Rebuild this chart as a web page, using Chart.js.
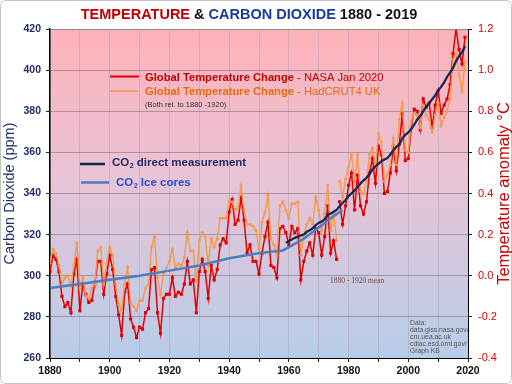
<!DOCTYPE html>
<html>
<head>
<meta charset="utf-8">
<script src="https://cdn.jsdelivr.net/npm/chart.js@4.4.1/dist/chart.umd.min.js"></script>
<style>
  html, body { margin: 0; padding: 0; background: #fff; }
  #wrap { width: 512px; height: 384px; }
  canvas { display: block; }
</style>
</head>
<body>
<div id="wrap"><canvas id="chart" width="512" height="384"></canvas></div>
<script>
'use strict';

// annual temperature anomaly (°C), rel. to 1880-1920, 1880..2019
const firstYear = 1880;
const nasaTemp = [
  0.02, 0.10, 0.08, 0.02, -0.10, -0.15, -0.13, -0.18, 0.01, 0.08,
  -0.17, -0.04, -0.09, -0.13, -0.12, -0.04, 0.07, 0.07, -0.09, 0.01,
  0.10, 0.03, -0.10, -0.19, -0.29, -0.08, -0.04, -0.21, -0.25, -0.30,
  -0.25, -0.26, -0.18, -0.16, 0.03, 0.04, -0.18, -0.28, -0.11, -0.09,
  -0.09, -0.01, -0.10, -0.08, -0.09, -0.04, 0.07, -0.04, -0.02, -0.18,
  0.02, 0.08, 0.02, -0.11, 0.05, -0.02, 0.03, 0.15, 0.18, 0.16,
  0.31, 0.37, 0.25, 0.27, 0.38, 0.27, 0.11, 0.15, 0.07, 0.07,
  0.01, 0.11, 0.19, 0.26, 0.05, 0.04, -0.01, 0.23, 0.24, 0.21,
  0.15, 0.24, 0.21, 0.23, -0.02, 0.07, 0.12, 0.16, 0.10, 0.23,
  0.21, 0.10, 0.19, 0.34, 0.11, 0.17, 0.08, 0.36, 0.25, 0.34,
  0.44, 0.50, 0.32, 0.49, 0.34, 0.30, 0.36, 0.50, 0.57, 0.45,
  0.63, 0.59, 0.40, 0.41, 0.50, 0.63, 0.51, 0.64, 0.79, 0.56,
  0.57, 0.72, 0.81, 0.80, 0.71, 0.86, 0.82, 0.84, 0.72, 0.83,
  0.90, 0.79, 0.83, 0.86, 0.93, 1.08, 1.20, 1.10, 1.03, 1.16
];
const hadcrutTemp = [
  0.06, 0.13, 0.11, 0.05, -0.04, -0.01, 0.00, -0.05, 0.05, 0.16,
  -0.06, -0.01, -0.10, -0.11, -0.06, -0.04, 0.12, 0.14, -0.04, 0.06,
  0.14, 0.10, -0.04, -0.14, -0.17, -0.04, 0.04, -0.13, -0.15, -0.17,
  -0.12, -0.12, -0.06, -0.04, 0.14, 0.19, -0.01, -0.09, 0.01, 0.04,
  0.07, 0.13, 0.04, 0.06, 0.05, 0.09, 0.21, 0.12, 0.12, -0.03,
  0.17, 0.21, 0.19, 0.05, 0.18, 0.14, 0.18, 0.28, 0.28, 0.28,
  0.36, 0.36, 0.32, 0.33, 0.44, 0.32, 0.25, 0.25, 0.24, 0.22,
  0.13, 0.26, 0.31, 0.39, 0.18, 0.15, 0.10, 0.34, 0.36, 0.32,
  0.28, 0.35, 0.35, 0.36, 0.10, 0.20, 0.25, 0.28, 0.25, 0.38,
  0.32, 0.22, 0.30, 0.44, 0.22, 0.30, 0.17, 0.46, 0.38, 0.47,
  0.53, 0.59, 0.46, 0.59, 0.41, 0.40, 0.46, 0.59, 0.62, 0.53,
  0.69, 0.65, 0.46, 0.49, 0.54, 0.67, 0.54, 0.76, 0.84, 0.61,
  0.60, 0.75, 0.79, 0.78, 0.72, 0.83, 0.78, 0.76, 0.70, 0.78,
  0.84, 0.73, 0.77, 0.80, 0.86, 1.05, 1.08, 0.98, 0.90, 1.04
];
const years = nasaTemp.map((_, i) => firstYear + i);
const gapAfterYear = 1976;

// CO2 direct measurement (ppm), 1959..2019
const directStart = 1959;
const co2Direct = [
  315.98, 316.91, 317.64, 318.45, 318.99, 319.62, 320.04, 321.37, 322.18, 323.05,
  324.62, 325.68, 326.32, 327.46, 329.68, 330.19, 331.13, 332.03, 333.84, 335.41,
  336.84, 338.76, 340.12, 341.48, 343.15, 344.85, 346.35, 347.61, 349.31, 351.69,
  353.20, 354.45, 355.70, 356.54, 357.21, 358.96, 360.97, 362.74, 363.88, 366.84,
  368.54, 369.71, 371.32, 373.45, 375.98, 377.70, 379.98, 382.09, 384.02, 385.83,
  387.64, 390.10, 391.85, 394.06, 396.74, 398.81, 401.01, 404.41, 406.76, 408.72,
  411.66
];

// CO2 ice cores (ppm)
const iceYears = [1880, 1890, 1900, 1910, 1920, 1930, 1940, 1950, 1958, 1965, 1970, 1975, 1978];
const iceCO2 = [294, 296, 298, 300, 302.5, 305, 308.5, 311, 312.3, 318, 323.5, 329, 332];

const xTickLabels = [1880, 1900, 1920, 1940, 1960, 1980, 2000, 2020];

const pts = (xs, ys) => xs.map((x, i) => ({ x: x, y: ys[i] }));
const gapSegment = {
  borderColor: c => c.p0.parsed.x === gapAfterYear ? 'rgba(0,0,0,0)' : undefined
};

const overlay = {
  id: 'overlay',
  beforeDraw(chart) {
    const { ctx, chartArea: a } = chart;
    const g = ctx.createLinearGradient(0, a.top, 0, a.bottom);
    g.addColorStop(0, '#ffb1b9');
    g.addColorStop(0.45, '#e9c3d6');
    g.addColorStop(1, '#b7cde9');
    ctx.save();
    ctx.fillStyle = g;
    ctx.fillRect(a.left, a.top, a.right - a.left, a.bottom - a.top);
    ctx.restore();
  },
  afterDraw(chart) {
    const { ctx, chartArea: a } = chart;
    ctx.save();

    // outer frame
    ctx.strokeStyle = '#c4c4c4';
    ctx.lineWidth = 1;
    ctx.beginPath();
    ctx.roundRect(0.5, 0.5, 511, 383, 5);
    ctx.stroke();

    // plot top edge
    ctx.strokeStyle = '#8a8a8a';
    ctx.beginPath();
    ctx.moveTo(a.left, a.top + 0.5);
    ctx.lineTo(a.right, a.top + 0.5);
    ctx.stroke();

    // title in several colours
    const parts = [
      ['TEMPERATURE', '#c00000'],
      [' & ', '#111'],
      ['CARBON DIOXIDE', '#1a3a9a'],
      [' 1880 - 2019', '#111']
    ];
    ctx.font = 'bold 14.5px "Liberation Sans", Arial, sans-serif';
    ctx.textBaseline = 'alphabetic';
    let total = parts.reduce((s, p) => s + ctx.measureText(p[0]).width, 0);
    let tx = 249 - total / 2;
    parts.forEach(p => {
      ctx.fillStyle = p[1];
      ctx.fillText(p[0], tx, 19);
      tx += ctx.measureText(p[0]).width;
    });

    // legend for temperature
    const legendLine = (x1, x2, y, color, w) => {
      ctx.strokeStyle = color;
      ctx.lineWidth = w;
      ctx.beginPath();
      ctx.moveTo(x1, y);
      ctx.lineTo(x2, y);
      ctx.stroke();
    };
    const twoPart = (x, y, bold, normal, color) => {
      ctx.fillStyle = color;
      ctx.font = 'bold 11.2px "Liberation Sans", Arial, sans-serif';
      ctx.fillText(bold, x, y);
      const w = ctx.measureText(bold).width;
      ctx.font = '11.2px "Liberation Sans", Arial, sans-serif';
      ctx.fillText(normal, x + w, y);
    };
    ctx.textBaseline = 'middle';
    legendLine(110, 139, 76.5, '#d90000', 2);
    twoPart(145, 78, 'Global Temperature Change', ' - NASA Jan 2020', '#c00000');
    legendLine(110, 138, 91, '#f79646', 1.5);
    twoPart(145, 92, 'Global Temperature Change', ' - HadCRUT4 UK', '#e46c0a');
    ctx.fillStyle = '#333';
    ctx.font = '7.5px "Liberation Sans", Arial, sans-serif';
    ctx.fillText('(Both rel. to 1880 -1920)', 145, 104.5);

    // legend for CO2
    const co2Label = (x, y, rest, color) => {
      ctx.fillStyle = color;
      ctx.font = 'bold 11.5px "Liberation Sans", Arial, sans-serif';
      ctx.fillText('CO', x, y);
      let w = ctx.measureText('CO').width;
      ctx.font = 'bold 7px "Liberation Sans", Arial, sans-serif';
      ctx.fillText('2', x + w + 0.5, y + 3.5);
      w += ctx.measureText('2').width + 0.5;
      ctx.font = 'bold 11.5px "Liberation Sans", Arial, sans-serif';
      ctx.fillText(rest, x + w, y);
    };
    legendLine(80, 105, 164, '#14285a', 2.5);
    co2Label(112, 163, ' direct measurement', '#1f2d6b');
    legendLine(81, 109, 182.5, '#4a7fbf', 2.5);
    co2Label(116, 183, ' Ice cores', '#1e50dc');

    // baseline note
    ctx.fillStyle = '#6e4a40';
    ctx.font = '7.5px "Liberation Serif", "Times New Roman", serif';
    ctx.fillText('1880 - 1920 mean', 330, 281);

    // data sources
    ctx.fillStyle = '#555';
    ctx.font = '6.8px "Liberation Sans", Arial, sans-serif';
    ['Data:', 'data.giss.nasa.gov/', 'cru.uea.ac.uk', 'cdiac.esd.ornl.gov/', 'Graph KB']
      .forEach((s, i) => ctx.fillText(s, 410, 323 + i * 7.1));

    // right axis title
    ctx.translate(504, (a.top + a.bottom) / 2);
    ctx.rotate(-Math.PI / 2);
    ctx.textAlign = 'center';
    ctx.fillStyle = '#d00000';
    ctx.font = '16.5px "Liberation Sans", Arial, sans-serif';
    ctx.fillText('Temperature anomaly °C', 0, 0);
    ctx.restore();
  }
};

const tickFont = { family: '"Liberation Sans", Arial, sans-serif', size: 10.5, weight: 'bold' };

new Chart(document.getElementById('chart'), {
  type: 'line',
  data: {
    datasets: [
      {
        label: 'CO2 direct measurement',
        data: pts(co2Direct.map((_, i) => directStart + i), co2Direct),
        yAxisID: 'y',
        borderColor: '#14285a',
        borderWidth: 2.3,
        pointRadius: 0
      },
      {
        label: 'CO2 Ice cores',
        data: pts(iceYears, iceCO2),
        yAxisID: 'y',
        borderColor: '#4a7fbf',
        borderWidth: 2.5,
        pointRadius: 0
      },
      {
        label: 'HadCRUT4 UK',
        data: pts(years, hadcrutTemp),
        yAxisID: 'yT',
        borderColor: '#f39a4c',
        backgroundColor: '#f39a4c',
        borderWidth: 1.4,
        pointRadius: 1.5,
        pointBorderWidth: 0,
        segment: gapSegment
      },
      {
        label: 'NASA Jan 2020',
        data: pts(years, nasaTemp),
        yAxisID: 'yT',
        borderColor: '#e00000',
        backgroundColor: '#e00000',
        borderWidth: 1.5,
        pointStyle: 'rect',
        pointRadius: 2.2,
        pointBorderWidth: 0,
        segment: gapSegment
      }
    ]
  },
  options: {
    responsive: false,
    animation: false,
    events: [],
    layout: { padding: { top: 29, left: 0, right: 0, bottom: 0 } },
    plugins: { legend: { display: false }, tooltip: { enabled: false }, title: { display: false } },
    scales: {
      x: {
        type: 'linear',
        min: 1880,
        max: 2020,
        afterFit: s => { s.height = 26; },
        ticks: {
          stepSize: 10,
          autoSkip: false,
          maxRotation: 0,
          padding: 3,
          color: '#111',
          font: tickFont,
          callback: v => xTickLabels.includes(v) ? String(v) : ''
        },
        grid: { color: 'rgba(160,150,165,0.4)', tickColor: '#222', tickLength: 4 },
        border: { color: '#000', width: 1 }
      },
      y: {
        position: 'left',
        min: 260,
        max: 420,
        afterFit: s => { s.width = 50; },
        ticks: { stepSize: 20, color: '#1f2d6b', font: tickFont, padding: 5 },
        grid: { color: 'rgba(120,110,120,0.55)', tickColor: '#222', tickLength: 4 },
        border: { color: '#000', width: 1.5 },
        title: {
          display: true,
          text: 'Carbon Dioxide (ppm)',
          color: '#1f2d6b',
          font: { family: '"Liberation Sans", Arial, sans-serif', size: 14.5 },
          padding: { top: 1, bottom: 0 }
        }
      },
      yT: {
        position: 'right',
        min: -0.4,
        max: 1.2,
        afterFit: s => { s.width = 44; },
        ticks: {
          stepSize: 0.2,
          color: '#e00000',
          font: { family: '"Liberation Sans", Arial, sans-serif', size: 11 },
          padding: 6,
          callback: v => (Math.abs(v) < 1e-9 ? 0 : v).toFixed(1)
        },
        grid: { drawOnChartArea: false, tickColor: '#222', tickLength: 4 },
        border: { color: '#000', width: 1 }
      }
    }
  },
  plugins: [overlay]
});
</script>
</body>
</html>
